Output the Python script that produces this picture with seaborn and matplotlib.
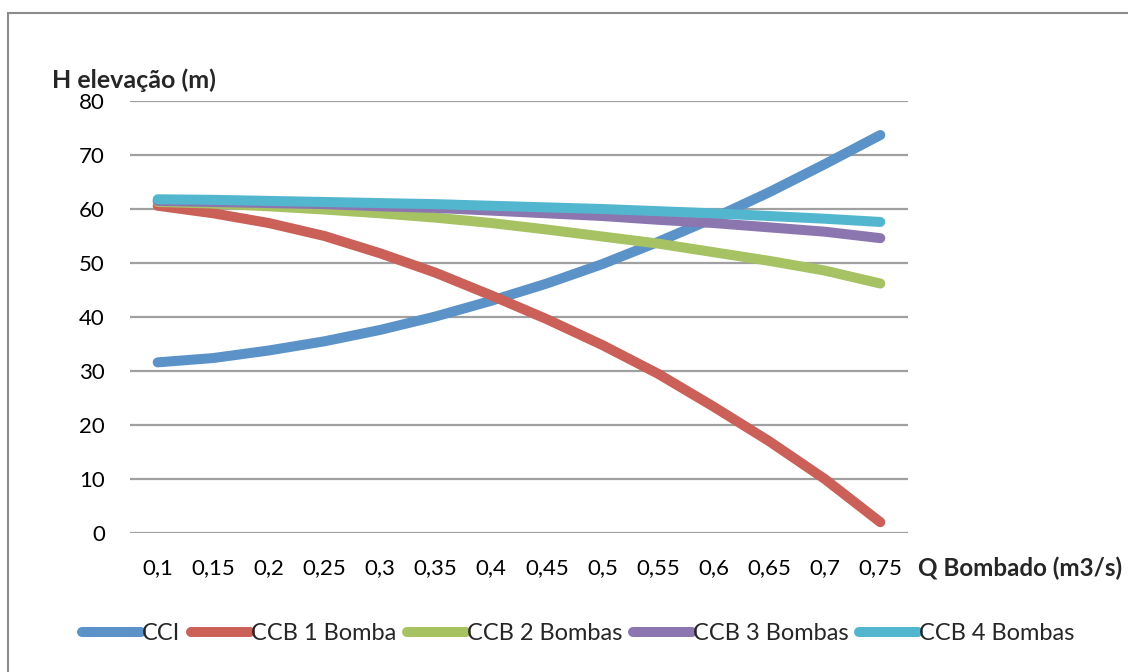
import matplotlib
matplotlib.use("Agg")
import matplotlib.pyplot as plt
from matplotlib.patches import Rectangle
import pandas as pd
import seaborn as sns

# Vazão bombeada (m3/s)
vazao = [0.10, 0.15, 0.20, 0.25, 0.30, 0.35, 0.40, 0.45, 0.50, 0.55, 0.60, 0.65, 0.70, 0.75]
rotulos_x = ["0,1", "0,15", "0,2", "0,25", "0,3", "0,35", "0,4", "0,45", "0,5",
             "0,55", "0,6", "0,65", "0,7", "0,75"]

# Curva característica da instalação
cci = [31.6, 32.4, 33.8, 35.5, 37.6, 40.1, 43.0, 46.2, 49.8, 53.9, 58.3, 63.1, 68.3, 73.7]
# Curvas características das bombas (associação em paralelo)
ccb_1 = [60.6, 59.2, 57.4, 55.0, 51.8, 48.2, 44.0, 39.6, 34.8, 29.5, 23.4, 17.0, 10.0, 2.0]
ccb_2 = [61.3, 61.0, 60.5, 59.9, 59.2, 58.4, 57.4, 56.2, 54.9, 53.6, 52.0, 50.4, 48.6, 46.2]
ccb_3 = [61.5, 61.3, 61.1, 60.9, 60.5, 60.2, 59.7, 59.2, 58.7, 58.0, 57.4, 56.6, 55.8, 54.6]
ccb_4 = [61.8, 61.7, 61.5, 61.3, 61.1, 60.9, 60.6, 60.3, 60.0, 59.6, 59.2, 58.7, 58.2, 57.6]

series = ["CCI", "CCB 1 Bomba", "CCB 2 Bombas", "CCB 3 Bombas", "CCB 4 Bombas"]
valores = [cci, ccb_1, ccb_2, ccb_3, ccb_4]
cores = ["#5B92C7", "#CB6058", "#A6C262", "#8C76AF", "#52B7CE"]

df = pd.DataFrame(
    [(q, nome, h) for nome, hs in zip(series, valores) for q, h in zip(vazao, hs)],
    columns=["Q", "serie", "H"],
)

sns.set_theme(style="white")
plt.rcParams["font.family"] = ["Lato", "DejaVu Sans"]

fig = plt.figure(figsize=(11.28, 6.72), dpi=100)
ax = fig.add_axes([130 / 1128, 1 - 533 / 672, 778 / 1128, 432 / 672])

sns.lineplot(data=df, x="Q", y="H", hue="serie", hue_order=series,
             palette=cores, linewidth=7.2, errorbar=None, legend=False,
             ax=ax, solid_capstyle="round", zorder=3)

ax.set_xlim(0.0751, 0.7749)
ax.set_ylim(0, 80)
ax.set_yticks(range(0, 81, 10))
ax.set_xticks(vazao)
ax.set_xticklabels(rotulos_x)
ax.set_xlabel("")
ax.set_ylabel("")
ax.yaxis.grid(True, color="#A0A0A0", linewidth=1.6, zorder=0)
ax.xaxis.grid(False)
for s in ax.spines.values():
    s.set_visible(False)
ax.tick_params(axis="both", length=0, colors="black", labelsize=16)
ax.tick_params(axis="y", pad=18)
ax.tick_params(axis="x", pad=18)

fig.text(52 / 1128, 1 - 80 / 672, "H elevação (m)", ha="left", va="center",
         fontsize=18, fontweight="bold")
fig.text(918 / 1128, 1 - 568 / 672, "Q Bombado (m3/s)", ha="left", va="center",
         fontsize=17.4, fontweight="bold")

handles = ax.get_lines()[:len(series)]
fig.legend(handles, series, loc="center", bbox_to_anchor=(578 / 1128, 1 - 634 / 672),
           ncol=5, frameon=False, fontsize=17,
           handlelength=2.5, handletextpad=0.04, columnspacing=0.45)

fig.add_artist(Rectangle((8 / 1128, -0.1), 1.2, 1.1 - 13 / 672, transform=fig.transFigure,
                         fill=False, edgecolor="#8C8C8C", linewidth=1.5))

fig.savefig("out.png", dpi=100)
